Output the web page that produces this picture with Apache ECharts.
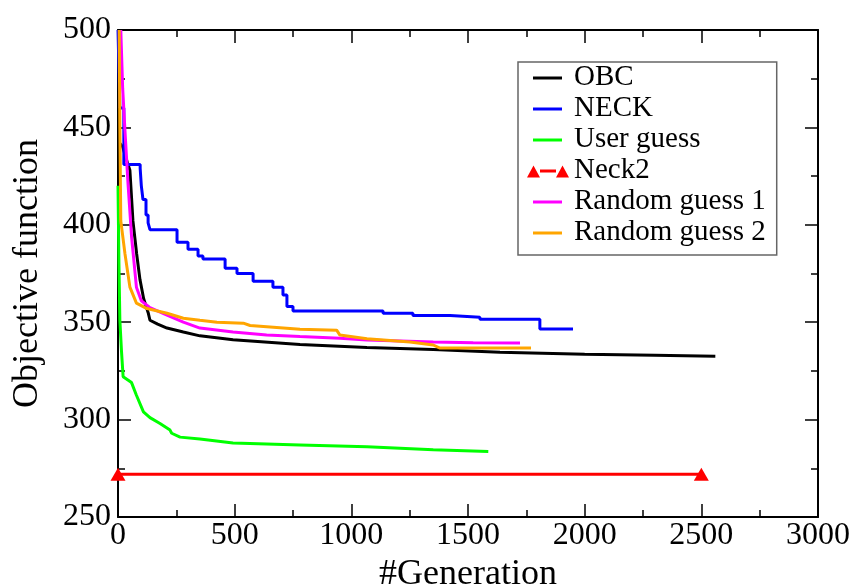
<!DOCTYPE html>
<html><head><meta charset="utf-8">
<script src="https://cdn.jsdelivr.net/npm/echarts@6/dist/echarts.min.js"></script>
<style>html,body{margin:0;padding:0;background:#fff}#c{width:857px;height:586px}</style>
</head><body><div id="c"></div>
<script>
var seriesNames = ['OBC','NECK','User guess','Neck2','Random guess 1','Random guess 2'];
var seriesColors = ['#000000','#0000ff','#00ff00','#ff0000','#ff00ff','#ffa500'];
var obc = [[0,443],[20,440],[40,432],[51,428],[64,402],[80,385],[94,372],[110,362],[129,355],[137,351],[170,349],[210,347],[280,345],[351,343],[493,341],[780,338.5],[1067,337],[1351,336],[1637,334.6],[2000,333.5],[2300,333],[2560,332.5]];
var neck = [[0,500],[8,460],[25,431],[95,429],[100,420],[107,413],[120,405],[129,401],[137,397.5],[253,391],[300,387.5],[343,384],[364,382.5],[459,377.7],[510,375],[579,371],[664,368],[707,364],[724,358],[750,355.8],[1136,354.6],[1264,353.5],[1423,352.6],[1551,351.5],[1808,346.5],[1950,346.5]];
var userGuess = [[0,420],[4,380],[8,351],[15,335],[22,322],[58,319],[79,312.5],[109,304],[137,301],[180,298],[223,294.6],[230,293],[266,291],[351,290],[493,288],[780,287],[1067,286],[1351,284.5],[1587,283.6]];
var neck2 = [[0,272],[2500,272]];
var random1 = [[12,500],[20,470],[30,448],[43,421],[58,394],[79,368],[100,361],[137,357.5],[210,353.6],[280,350],[351,347],[493,345],[637,343.4],[780,342.6],[951,341.8],[1067,340.8],[1351,339.8],[1522,339.5],[1723,339.3]];
var random2 = [[5,500],[8,450],[12,402],[30,385],[51,368],[79,359.8],[124,357],[210,354.6],[280,352],[351,351],[424,350],[537,349.5],[566,348.3],[780,346.4],[937,345.9],[951,343.4],[1067,341.5],[1251,339.8],[1351,338.3],[1380,336.7],[1770,336.7]];
var xTicks = [0,500,1000,1500,2000,2500,3000];
var yTicks = [250,300,350,400,450,500];

var FONT = '"Liberation Serif","DejaVu Serif",serif';
var chart = echarts.init(document.getElementById('c'), null, {renderer:'canvas'});
function axisCommon(show){
  return {
    axisLine:{show:true,onZero:false,lineStyle:{color:'#000',width:2}},
    axisTick:{show:true,inside:true,length:13,lineStyle:{color:'#000',width:1.5}},
    minorTick:{show:true,splitNumber:2,length:7,lineStyle:{color:'#000',width:1.5}},
    splitLine:{show:false},
    axisLabel:{show:show,color:'#000',fontFamily:FONT,fontSize:32,formatter:function(v){return String(v);}}
  };
}
var nameStyle = {color:'#000',fontFamily:FONT,fontSize:36};
var xb = Object.assign({type:'value',position:'bottom',min:xTicks[0],max:xTicks[xTicks.length-1],interval:500,
  name:'#Generation',nameLocation:'middle',nameGap:33,nameTextStyle:nameStyle},axisCommon(true));
xb.axisLabel.margin = 3;
var xt = Object.assign({type:'value',position:'top',min:xTicks[0],max:xTicks[xTicks.length-1],interval:500},axisCommon(false));
var yl = Object.assign({type:'value',position:'left',min:yTicks[0],max:yTicks[yTicks.length-1],interval:50,
  name:'Objective function',nameLocation:'middle',nameGap:72,nameTextStyle:nameStyle},axisCommon(true));
yl.axisLabel.margin = 7;
var yr = Object.assign({type:'value',position:'right',min:yTicks[0],max:yTicks[yTicks.length-1],interval:50},axisCommon(false));

var lineIcon = 'path://M0,0M42,14M6,6L35,6L35,9L6,9Z';
var triIcon = 'path://M0,0M42,14M0,14L6.5,2L13,14ZM13,6L29,6L29,9L13,9ZM29,14L35.5,2L42,14Z';

var datas = [obc,neck,userGuess,neck2,random1,random2];
var series = datas.map(function(d,i){
  var s = {name:seriesNames[i],type:'line',data:d,xAxisIndex:0,yAxisIndex:0,
    lineStyle:{color:seriesColors[i],width:3},itemStyle:{color:seriesColors[i]},
    showSymbol:false,symbol:'none',animation:false,silent:true};
  if(i===1){s.step='end';}
  if(i===3){s.showSymbol=true;s.symbol='triangle';s.symbolSize=[15,13];}
  return s;
});
chart.setOption({
  backgroundColor:'#fff',
  animation:false,
  grid:{left:118,right:39,top:30,bottom:69,containLabel:false,outerBoundsMode:'none'},
  xAxis:[xb,xt],
  yAxis:[yl,yr],
  legend:{show:true,orient:'vertical',left:518,top:62,
    data:seriesNames.map(function(n,i){return {name:n,icon:(i===3?triIcon:lineIcon),itemStyle:{color:seriesColors[i],borderWidth:0}};}),
    itemWidth:42,itemHeight:14,itemGap:2,padding:[1,11,8,9],
    backgroundColor:'#fff',borderColor:'#666',borderWidth:1.5,
    textStyle:{color:'#000',fontFamily:FONT,fontSize:29,lineHeight:29},
    selectedMode:false},
  series:series
});
</script></body></html>
